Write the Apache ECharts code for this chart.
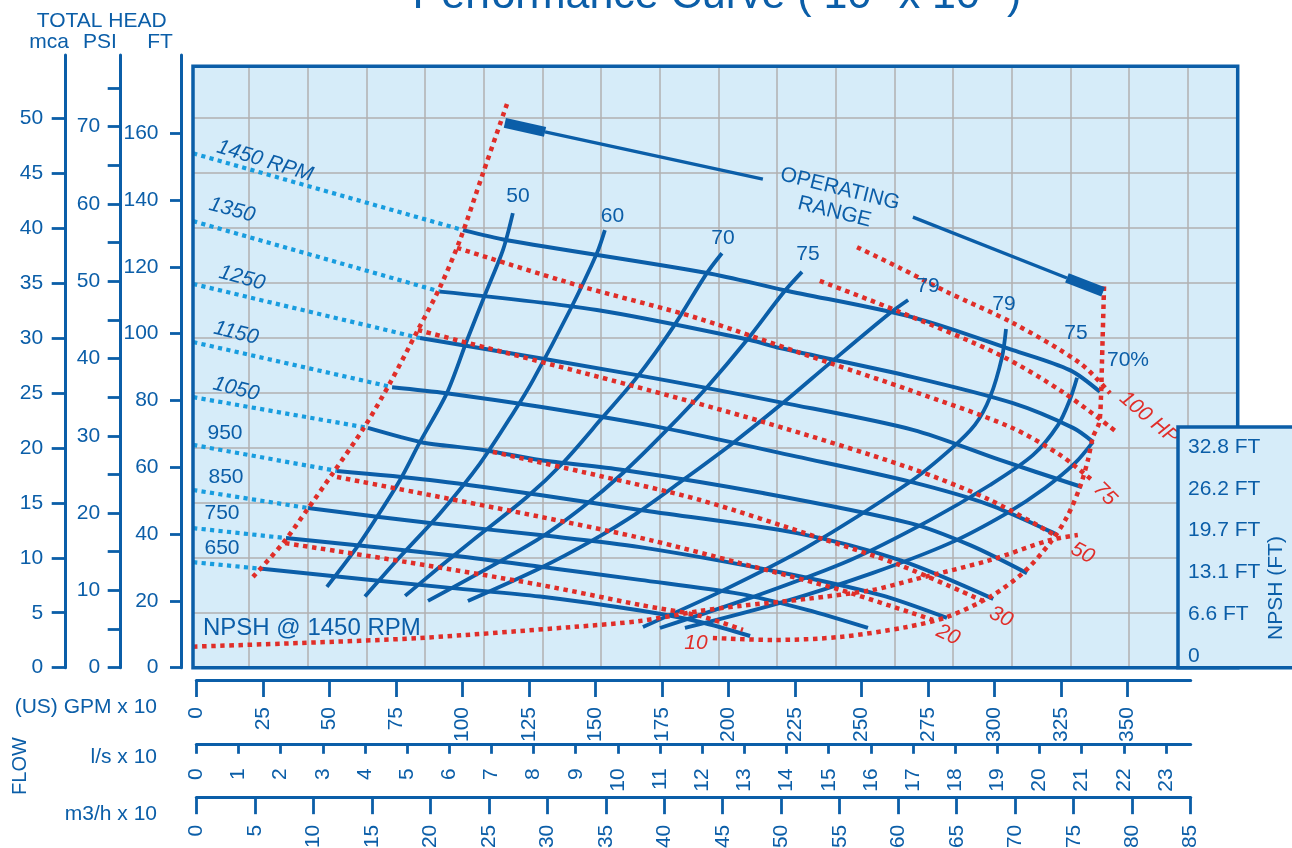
<!DOCTYPE html>
<html>
<head>
<meta charset="utf-8">
<script src="https://cdn.jsdelivr.net/npm/echarts@6/dist/echarts.min.js"></script>
<style>
html,body{margin:0;padding:0;background:#fff;}
#c{width:1292px;height:848px;}
</style>
</head>
<body>
<div id="c"></div>
<script>
// ---------------- DATA (flow in US GPM x 10, head in FT) ----------------
const rpmNames = ['1450 RPM','1350','1250','1150','1050','950','850','750','650'];
const LEFT_EDGE_FLOW = -1.2;
const headAtLeftEdge = [154.0,133.7,114.9,97.5,81.0,66.7,53.2,41.8,31.6];

const head1450 = [[100.3,131.0],[116.8,128.0],[192.0,118.2],[220.6,113.1],[269.4,104.9],[307.0,95.1],[328.4,89.1],[339.7,82.6]];
const head1350 = [[91.6,112.6],[150.6,107.1],[208.2,98.1],[219.4,95.7],[269.4,87.0],[307.0,79.2],[329.6,71.8],[337.1,67.6]];
const head1250 = [[84.1,98.7],[165.7,87.6],[220.6,79.3],[269.4,71.2],[302.1,62.2],[332.9,54.1]];
const head1150 = [[73.6,84.0],[94.1,82.2],[129.2,78.1],[175.4,71.8],[225.8,63.2],[268.3,55.7],[298.4,48.7],[323.6,39.8]];
const head1050 = [[64.5,71.8],[76.6,69.1],[84.1,67.6],[91.6,66.7],[107.8,65.2],[129.2,62.2],[160.4,59.2],[213.0,52.3],[268.3,43.3],[290.9,36.7],[312.3,28.3]];
const head950  = [[52.9,58.9],[87.8,56.2],[129.2,51.7],[166.8,47.2],[225.8,40.3],[264.5,32.2],[299.6,20.6]];
const head850  = [[42.0,47.8],[87.8,43.3],[129.2,39.7],[166.8,36.1],[219.4,28.6],[257.0,21.8],[282.2,14.9]];
const head750  = [[33.7,38.8],[95.4,33.7],[129.2,30.2],[166.8,26.3],[204.4,22.1],[229.6,17.3],[252.5,11.9]];
const head650  = [[24.7,29.6],[95.4,23.9],[129.2,21.3],[166.8,17.1],[189.4,13.7],[208.2,9.5]];

const eff50  = [[49.1,24.2],[60.4,36.1],[67.9,45.1],[76.6,56.2],[84.1,67.6],[94.2,82.2],[101.8,98.1],[108.5,111.6],[115.3,125.1],[119.0,136.1]];
const eff60  = [[63.4,21.3],[76.6,33.2],[91.6,46.2],[106.7,61.2],[119.1,76.2],[126.6,86.1],[140.5,107.1],[150.6,124.1],[153.6,131.0]];
const eff70  = [[78.5,21.5],[91.6,30.2],[104.0,38.2],[124.3,51.1],[137.8,61.3],[152.9,75.1],[165.7,87.0],[179.2,101.9],[192.0,118.2],[197.6,124.1]];
const eff75  = [[87.1,20.0],[128.0,38.2],[145.3,48.1],[160.4,58.3],[176.9,71.2],[192.0,84.0],[207.0,98.1],[220.6,112.2],[227.7,118.5]];
const eff79a = [[102.1,20.0],[129.2,29.8],[149.1,38.2],[165.7,46.3],[183.0,56.2],[201.8,67.3],[220.6,79.3],[238.2,91.2],[260.8,106.2],[267.6,110.1]];
const eff79b = [[167.9,12.2],[196.9,22.7],[229.6,36.1],[268.3,55.6],[283.3,65.2],[292.7,72.7],[298.4,81.0],[302.9,93.0],[304.4,101.4]];
const eff75b = [[174.3,11.9],[208.2,20.9],[245.7,32.2],[275.8,44.2],[298.4,54.7],[314.6,63.7],[324.0,72.7],[328.4,80.2],[331.1,86.8]];
const eff70b = [[183.7,11.9],[219.4,19.4],[254.4,28.4],[283.3,37.3],[304.8,46.3],[319.1,53.8],[330.4,61.3],[337.1,67.6]];
const effLabels = ['50','60','70','75','79','79','75','70%'];

const minFlow = [[21.3,27.2],[32.6,37.3],[41.6,47.2],[51.4,58.3],[63.0,71.8],[72.8,85.2],[83.3,101.1],[91.6,113.9],[99.1,128.0],[107.8,148.1],[116.8,168.8]];
const maxFlow = [[194.2,8.9],[216.8,8.3],[242.0,9.2],[267.2,12.2],[282.2,15.2],[298.4,21.2],[310.8,28.4],[320.9,37.3],[327.3,45.1],[332.2,54.1],[335.2,62.2],[337.1,69.1],[339.4,73.3],[340.1,81.0],[340.5,92.1],[341.3,115.5]];
const npsh1450 = [[-1.2,6.3],[39.0,7.4],[84.1,8.9],[141.6,12.2],[166.8,14.0],[189.4,17.0],[204.4,18.5],[229.6,20.6],[254.4,23.3],[269.4,26.3],[298.4,32.2],[320.9,38.2],[331.4,39.7]];

const hp10  = [[33.4,37.3],[79.2,31.6],[129.2,24.8],[166.8,18.8],[189.4,15.5],[205.5,11.3]];
const hp20  = [[52.9,57.1],[87.8,51.7],[129.2,45.2],[170.6,38.2],[204.4,31.3],[242.0,23.3],[276.9,14.3]];
const hp30  = [[111.5,64.6],[151.8,57.4],[189.4,50.2],[234.5,38.8],[264.5,30.7],[295.7,20.0]];
const hp50  = [[83.3,101.1],[163.0,84.6],[213.0,73.6],[268.3,59.8],[298.4,50.2],[323.6,39.3]];
const hp75  = [[98.0,125.7],[144.2,114.3],[188.2,104.7],[238.2,91.2],[268.3,83.1],[305.9,72.1],[324.7,63.7],[336.7,56.2]];
const hpUpperA = [[234.4,115.8],[264.5,106.5],[302.1,93.6],[325.8,82.5],[346.1,70.5]];
const hp100 = [[248.4,125.9],[264.5,119.7],[282.2,112.5],[307.0,103.2],[332.2,91.2],[343.5,82.2]];
const hpLabels = ['10','20','30','50','75','100 HP'];

const opEndLeft  = [[116.0,163.1],[131.1,160.4]];
const opLineLeft = [[131.1,160.4],[213.0,146.3]];
const opLineRight= [[269.4,134.9],[327.3,116.7]];
const opEndRight = [[327.3,116.7],[340.9,112.5]];

// tick values
const mcaTicks = [0,5,10,15,20,25,30,35,40,45,50];
const psiTicks = [0,5,10,15,20,25,30,35,40,45,50,55,60,65,70,75];
const psiLabels = [0,10,20,30,40,50,60,70];
const ftTicks = [0,20,40,60,80,100,120,140,160];
const gpmTicks = [0,25,50,75,100,125,150,175,200,225,250,275,300,325,350];
const lpsTicks = [0,1,2,3,4,5,6,7,8,9,10,11,12,13,14,15,16,17,18,19,20,21,22,23];
const m3hTicks = [0,5,10,15,20,25,30,35,40,45,50,55,60,65,70,75,80,85];
const npshTicks = [0,2,4,6,8,10];
const npshLabels = ['0','6.6 FT','13.1 FT','19.7 FT','26.2 FT','32.8 FT'];

// ---------------- STYLE ----------------
const FONT = "'Liberation Sans', Arial, sans-serif";
const BLUE = '#0b5ea8';
const CYAN = '#189ddf';
const RED = '#e02e29';
const BG = '#d6ecf9';
const GRIDC = '#b0b0b0';

const headCurves = [head1450,head1350,head1250,head1150,head1050,head950,head850,head750,head650];
const effCurves = [eff50,eff60,eff70,eff75,eff79a,eff79b,eff75b,eff70b];
const hpCurves = [hp10,hp20,hp30,hp50,hp75,hpUpperA,hp100];

function ln(data, color, width, type, z, smooth){
  return {type:'line', xAxisIndex:0, yAxisIndex:0, data:data, symbol:'none', showSymbol:false,
    smooth: smooth===undefined?0.3:smooth, silent:true, animation:false, z:z||2, clip:true,
    lineStyle:{color:color, width:width, type:type||'solid', cap:'butt', join:'round'}};
}
const series = [];
headCurves.forEach((c,i)=>{
  series.push(ln([[LEFT_EDGE_FLOW, headAtLeftEdge[i]], c[0]], CYAN, 4.2, [4.2,4.3], 2, false));
  series.push(ln(c, BLUE, 4, 'solid', 3));
});
effCurves.forEach(c=>series.push(ln(c, BLUE, 3.8, 'solid', 3)));
[minFlow, maxFlow, npsh1450].concat(hpCurves).forEach(c=>series.push(ln(c, RED, 4.5, [4.5,4.6], 4)));
series.push(ln(opEndLeft, BLUE, 10, 'solid', 5, false));
series.push(ln(opLineLeft, BLUE, 3.3, 'solid', 5, false));
series.push(ln(opLineRight, BLUE, 3.3, 'solid', 5, false));
series.push(ln(opEndRight, BLUE, 10, 'solid', 5, false));

// ---------------- TEXT ANNOTATIONS ----------------
const D = Math.PI/180;
function txt(text, x, y, opt){
  opt = opt || {};
  return {type:'text', x:x, y:y, rotation:(opt.rot||0)*D, z:opt.z||15, silent:true,
    style:{text:text, fill:opt.color||BLUE, font:(opt.italic?'italic ':'')+(opt.size||21)+'px '+FONT,
      align:opt.align||'center', verticalAlign:'middle'}};
}
const rpmPos = [[265,161,-17,1],[232,210,-15,1],[242,278,-15,1],[236,333,-14,1],[236,389,-14,1],[225,433,0,0],[226,477,0,0],[222,513,0,0],[222,548,0,0]];
const effPos = [[518,196],[612.5,216],[723,238],[808,254],[928,286],[1004,304.5],[1076,333],[1128,360]];
const hpPos = [[696,643,0],[948,635,-25],[1001,617,-25],[1082.5,553,-28],[1105,494,-45],[1149,418,-40]];

const g = [];
g.push(txt('Performance Curve ( 10" x 10" )', 717, -4, {size:43}));
g.push(txt('TOTAL HEAD', 101.7, 21));
g.push(txt('mca', 49, 42));
g.push(txt('PSI', 100, 42));
g.push(txt('FT', 160, 42));
g.push(txt('(US) GPM x 10', 157, 707, {align:'right'}));
g.push(txt('l/s x 10', 157, 757, {align:'right'}));
g.push(txt('m3/h x 10', 157, 814, {align:'right'}));
g.push(txt('FLOW', 20, 766, {rot:90, size:20}));
rpmNames.forEach((n,i)=>{const p=rpmPos[i]; g.push(txt(n,p[0],p[1],{rot:p[2],italic:p[3]}));});
effLabels.forEach((n,i)=>{const p=effPos[i]; g.push(txt(n,p[0],p[1],{size:21}));});
hpLabels.forEach((n,i)=>{const p=hpPos[i]; g.push(txt(n,p[0],p[1],{rot:p[2],italic:1,color:RED,size:21,z:12}));});
g.push(txt('OPERATING', 840, 189, {rot:-14}));
g.push(txt('RANGE', 834.5, 212, {rot:-14}));
g.push(txt('NPSH @ 1450 RPM', 203, 628, {size:24, align:'left'}));
// plot border
g.push({type:'rect', z:10, silent:true, shape:{x:193, y:66.3, width:1044.7, height:601.4},
  style:{fill:null, stroke:BLUE, lineWidth:3.5}});
// NPSH box
g.push({type:'rect', z:20, silent:true, shape:{x:1178, y:427, width:160, height:240.7},
  style:{fill:BG, stroke:BLUE, lineWidth:3.5}});
g.push(txt('NPSH (FT)', 1276.7, 588, {rot:90, z:25}));

// ---------------- AXES ----------------
const lbl = (extra)=>Object.assign({color:BLUE, fontSize:21, fontFamily:FONT}, extra);
const onlyIn = (arr)=> (v)=> (arr.indexOf(Math.round(v*1000)/1000)>=0 ? String(v) : '');

const option = {
  animation:false,
  backgroundColor:'#ffffff',
  grid:[
    {left:193, top:66.3, width:1044.7, height:601.4, show:true, backgroundColor:BG, borderWidth:0, outerBoundsMode:'none'},
    {left:190.5, top:66.3, width:1047.2, height:601.4, show:false, outerBoundsMode:'none'},
    {left:181, top:55, width:10, height:612.7, show:false, outerBoundsMode:'none'},
    {left:196.3, top:600, width:994.4, height:80, show:false, outerBoundsMode:'none'},
    {left:1188, top:447, width:90, height:209, show:false, outerBoundsMode:'none'}
  ],
  xAxis:[
    {gridIndex:0, type:'value', min:-1.24, max:391.5, show:false},
    {gridIndex:1, type:'value', min:0, max:89.245, interval:5, axisLine:{show:false}, axisTick:{show:false}, axisLabel:{show:false},
      splitLine:{show:true, showMinLine:false, lineStyle:{color:GRIDC, width:1.5}}},
    {gridIndex:2, type:'value', show:false},
    {gridIndex:3, type:'value', position:'bottom', offset:0, min:0, max:373.83, interval:25,
      axisLine:{show:true, onZero:false, lineStyle:{color:BLUE, width:3}},
      axisTick:{show:true, length:17, lineStyle:{color:BLUE, width:2.8}, customValues:gpmTicks},
      axisLabel:lbl({rotate:90, margin:27, customValues:gpmTicks, formatter:onlyIn(gpmTicks)}), splitLine:{show:false}},
    {gridIndex:3, type:'value', position:'bottom', offset:64.3, min:0, max:23.586, interval:1,
      axisLine:{show:true, onZero:false, lineStyle:{color:BLUE, width:3}},
      axisTick:{show:true, length:9.5, lineStyle:{color:BLUE, width:2.8}, customValues:lpsTicks},
      axisLabel:lbl({rotate:90, margin:24, customValues:lpsTicks, formatter:onlyIn(lpsTicks)}), splitLine:{show:false}},
    {gridIndex:3, type:'value', position:'bottom', offset:117.7, min:0, max:85, interval:5,
      axisLine:{show:true, onZero:false, lineStyle:{color:BLUE, width:3}},
      axisTick:{show:true, length:16.5, lineStyle:{color:BLUE, width:2.8}, customValues:m3hTicks},
      axisLabel:lbl({rotate:90, margin:27, customValues:m3hTicks, formatter:onlyIn(m3hTicks)}), splitLine:{show:false}},
    {gridIndex:4, type:'value', show:false}
  ],
  yAxis:[
    {gridIndex:0, type:'value', min:0, max:180.06, show:false},
    {gridIndex:0, type:'value', min:0, max:54.72, interval:5, position:'left', axisLine:{show:false}, axisTick:{show:false}, axisLabel:{show:false},
      splitLine:{show:true, lineStyle:{color:GRIDC, width:1.5}}},
    {gridIndex:1, type:'value', show:false},
    {gridIndex:2, type:'value', position:'left', offset:0, min:0, max:183.44, interval:20,
      axisLine:{show:true, onZero:false, lineStyle:{color:BLUE, width:3}},
      axisTick:{show:true, length:11, lineStyle:{color:BLUE, width:2.8}, customValues:ftTicks},
      axisLabel:lbl({margin:22.5, customValues:ftTicks, formatter:onlyIn(ftTicks)}), splitLine:{show:false}},
    {gridIndex:2, type:'value', position:'left', offset:60.3, min:0, max:79.26, interval:5,
      axisLine:{show:true, onZero:false, lineStyle:{color:BLUE, width:3}},
      axisTick:{show:true, length:13, lineStyle:{color:BLUE, width:2.8}, customValues:psiTicks},
      axisLabel:lbl({margin:20.5, customValues:psiLabels, formatter:onlyIn(psiLabels)}), splitLine:{show:false}},
    {gridIndex:2, type:'value', position:'left', offset:115.3, min:0, max:55.75, interval:5,
      axisLine:{show:true, onZero:false, lineStyle:{color:BLUE, width:3}},
      axisTick:{show:true, length:14, lineStyle:{color:BLUE, width:2.8}, customValues:mcaTicks},
      axisLabel:lbl({margin:22.5, customValues:mcaTicks, formatter:onlyIn(mcaTicks)}), splitLine:{show:false}},
    {gridIndex:3, type:'value', show:false, min:0, max:1},
    {gridIndex:4, type:'value', position:'left', min:0, max:10, interval:2, z:30,
      axisLine:{show:false}, axisTick:{show:false}, splitLine:{show:false},
      axisLabel:lbl({inside:true, margin:0, fontSize:21, formatter:(v)=>{const i=npshTicks.indexOf(v); return i>=0?npshLabels[i]:'';}})}
  ],
  graphic:{elements:g},
  series:series
};
const chart = echarts.init(document.getElementById('c'), null, {renderer:'canvas'});
chart.setOption(option);
</script>
</body>
</html>
